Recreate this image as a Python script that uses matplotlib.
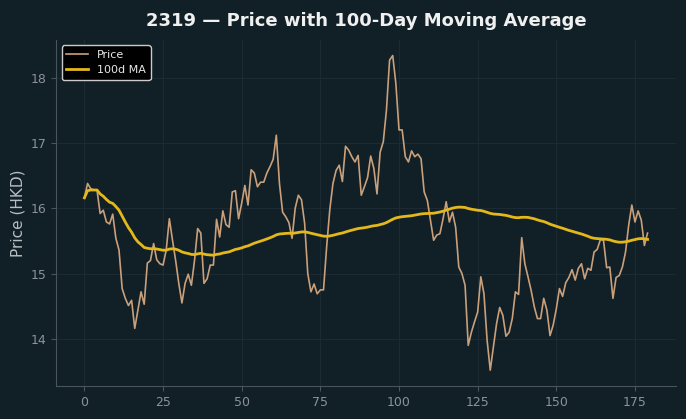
import numpy as np
import pandas as pd
import matplotlib
matplotlib.use("Agg")
import matplotlib.pyplot as plt

title = "2319 — Price with 100-Day Moving Average"
ylabel = "Price (HKD)"
price = [
    16.16, 16.38, 16.30, 16.28, 16.28, 15.92, 15.97, 15.79, 15.76, 15.91,
    15.54, 15.36, 14.77, 14.62, 14.51, 14.59, 14.16, 14.44, 14.72, 14.53,
    15.16, 15.20, 15.46, 15.21, 15.15, 15.13, 15.36, 15.84, 15.51, 15.20,
    14.85, 14.55, 14.85, 14.99, 14.82, 15.20, 15.69, 15.62, 14.85, 14.92,
    15.13, 15.13, 15.83, 15.56, 15.96, 15.75, 15.71, 16.25, 16.27, 15.84,
    16.08, 16.35, 16.05, 16.59, 16.54, 16.33, 16.40, 16.40, 16.54, 16.64,
    16.75, 17.12, 16.38, 15.94, 15.87, 15.78, 15.54, 16.00, 16.20, 16.13,
    15.77, 15.00, 14.72, 14.84, 14.69, 14.75, 14.75, 15.41, 15.98, 16.38,
    16.58, 16.66, 16.41, 16.95, 16.89, 16.79, 16.71, 16.81, 16.20, 16.33,
    16.47, 16.80, 16.61, 16.22, 16.86, 17.02, 17.50, 18.27, 18.34, 17.91,
    17.20, 17.20, 16.79, 16.71, 16.88, 16.79, 16.83, 16.76, 16.25, 16.12,
    15.82, 15.51, 15.59, 15.61, 15.84, 16.10, 15.79, 15.94, 15.71, 15.10,
    15.00, 14.82, 13.90, 14.10, 14.26, 14.41, 14.95, 14.69, 13.98, 13.52,
    13.87, 14.23, 14.48, 14.36, 14.04, 14.10, 14.31, 14.72, 14.68, 15.55,
    15.15, 14.95, 14.74, 14.49, 14.31, 14.31, 14.62, 14.44, 14.05, 14.21,
    14.46, 14.77, 14.65, 14.86, 14.94, 15.06, 14.90, 15.08, 15.15, 14.92,
    15.08, 15.05, 15.33, 15.37, 15.52, 15.51, 15.09, 15.10, 14.62, 14.94,
    14.97, 15.10, 15.33, 15.74, 16.05, 15.79, 15.96, 15.82, 15.43, 15.62,
]
window = 100

s = pd.Series(price)
ma = s.rolling(window, min_periods=1).mean()
x = np.arange(len(price))

bg = "#111f27"
fig = plt.figure(figsize=(6.86, 4.19), dpi=100, facecolor=bg)
ax = fig.add_axes([0.082, 0.079, 0.903, 0.826])
ax.set_facecolor(bg)

ax.plot(x, s, color="#c9a07a", lw=1.2, label="Price")
ax.plot(x, ma, color="#e3b81b", lw=2.0, label="100d MA")

ax.grid(True, color="#1c2b33", lw=0.8)
ax.set_axisbelow(True)
for sp in ["top", "right"]:
    ax.spines[sp].set_visible(False)
for sp in ["left", "bottom"]:
    ax.spines[sp].set_color("#4a555b")
ax.tick_params(colors="#4a555b", labelcolor="#8b9398", labelsize=9)
ax.set_ylabel(ylabel, color="#b8bec2", fontsize=11)
ax.set_title(title, color="#f0f0f0", fontsize=13, fontweight="bold", pad=10)
ax.set_yticks([14, 15, 16, 17, 18])

leg = ax.legend(loc="upper left", facecolor="black", edgecolor="#cccccc",
                fontsize=8, framealpha=1.0)
for t in leg.get_texts():
    t.set_color("#e8e8e8")

fig.savefig("out.png", dpi=100, facecolor=bg)
